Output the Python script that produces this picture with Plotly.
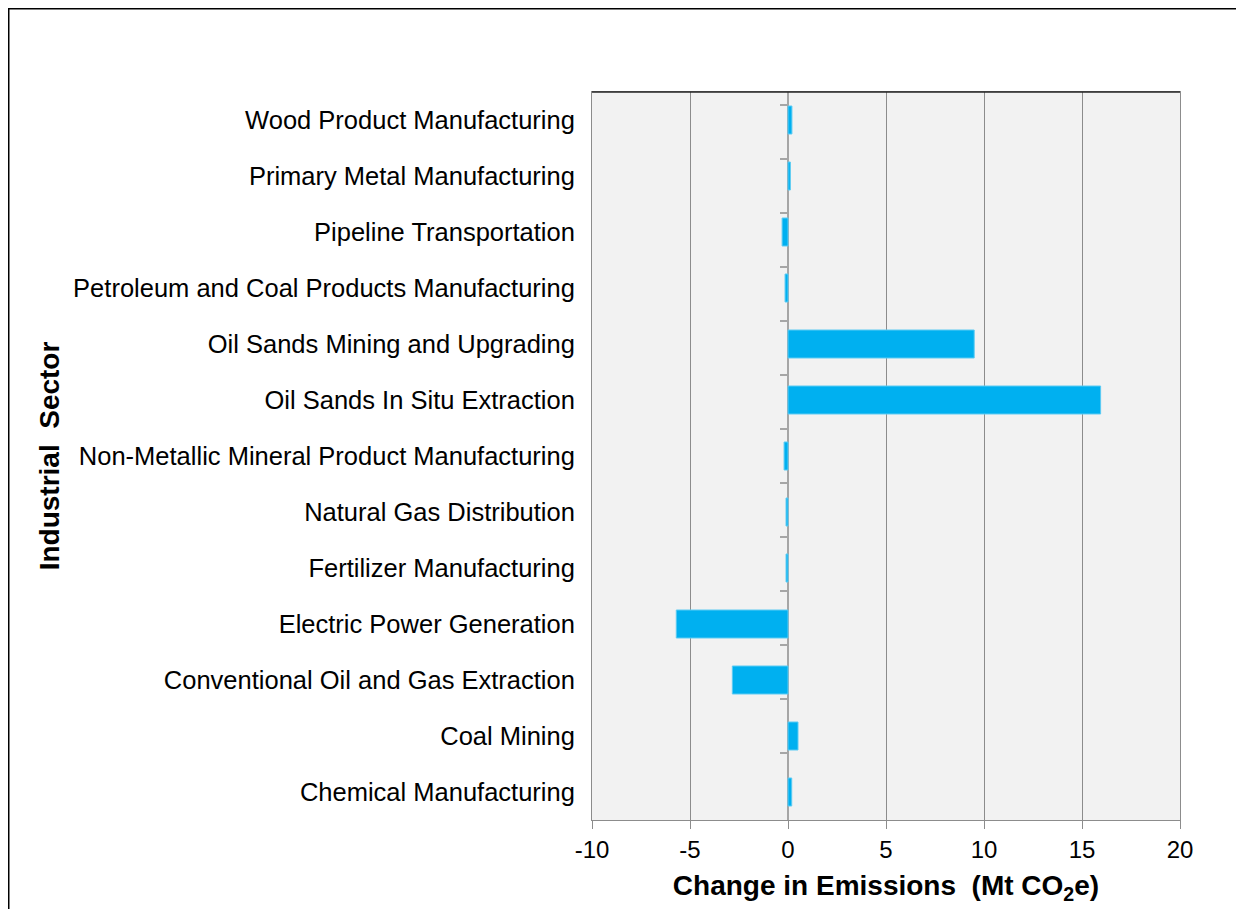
import plotly.graph_objects as go

# sectors listed top to bottom as they appear in the chart
sectors = [
    'Wood Product Manufacturing',
    'Primary Metal Manufacturing',
    'Pipeline Transportation',
    'Petroleum and Coal Products Manufacturing',
    'Oil Sands Mining and Upgrading',
    'Oil Sands In Situ Extraction',
    'Non-Metallic Mineral Product Manufacturing',
    'Natural Gas Distribution',
    'Fertilizer Manufacturing',
    'Electric Power Generation',
    'Conventional Oil and Gas Extraction',
    'Coal Mining',
    'Chemical Manufacturing',
]
change_mt = [0.2, 0.12, -0.3, -0.15, 9.5, 15.95, -0.2, -0.1, -0.1, -5.7, -2.84, 0.51, 0.19]

x_ticks = [-10, -5, 0, 5, 10, 15, 20]
x_tick_labels = ['-10', '-5', '0', '5', '10', '15', '20']

FONT = 'Liberation Sans, Arial, sans-serif'

fig = go.Figure()

fig.add_trace(
    go.Bar(
        x = change_mt,
        y = sectors,
        orientation = 'h',
        marker = {'color': '#00B0F0', 'line': {'color': '#5CCBF3', 'width': 1}},
        showlegend = False,
    )
)

# invisible copy on a second axis, only there to draw the category ticks along the zero line
fig.add_trace(
    go.Scatter(
        x = [0] * len(sectors),
        y = sectors,
        yaxis = 'y2',
        mode = 'markers',
        marker = {'opacity': 0},
        hoverinfo = 'skip',
        showlegend = False,
    )
)

fig.update_layout(
    width = 1244,
    height = 909,
    margin = dict(l = 584, r = 72, t = 84, b = 97),
    paper_bgcolor = 'white',
    plot_bgcolor = '#F2F2F2',
    font = dict(family = FONT, size = 24, color = 'black'),
    bargap = 0.5,
    xaxis = dict(
        range = [-10, 20],
        tickvals = x_ticks,
        ticktext = x_tick_labels,
        ticks = 'outside',
        ticklen = 8,
        tickcolor = '#8C8C8C',
        showgrid = True,
        gridcolor = '#8C8C8C',
        gridwidth = 1,
        zeroline = True,
        zerolinecolor = '#A6A6A6',
        zerolinewidth = 2,
        showline = True,
        linecolor = '#8C8C8C',
        linewidth = 1,
        mirror = True,
        tickfont = dict(size = 24),
        title = dict(text = '<b>Change in Emissions  (Mt CO<sub>2</sub>e)</b>', font = dict(size = 28), standoff = 13),
        fixedrange = True,
    ),
    yaxis = dict(
        autorange = 'reversed',
        categoryorder = 'array',
        categoryarray = sectors,
        ticks = '',
        ticklabelstandoff = 11,
        showline = True,
        linecolor = '#8C8C8C',
        linewidth = 1,
        mirror = True,
        showgrid = False,
        tickfont = dict(size = 25.5),
        title = dict(text = '<b>Industrial  Sector</b>', font = dict(size = 28), standoff = 5),
        fixedrange = True,
    ),
    yaxis2 = dict(
        overlaying = 'y',
        anchor = 'free',
        position = 1 / 3,
        side = 'left',
        autorange = 'reversed',
        categoryorder = 'array',
        categoryarray = sectors,
        showticklabels = False,
        ticks = 'outside',
        tickson = 'boundaries',
        ticklen = 8,
        tickwidth = 2,
        tickcolor = '#A6A6A6',
        showgrid = False,
        showline = False,
        fixedrange = True,
    ),
)

# darker top edge of the plot frame
fig.add_shape(type = 'line', xref = 'paper', yref = 'paper', x0 = 0, x1 = 1, y0 = 1, y1 = 1,
              line = dict(color = '#262626', width = 1.5))

# outer black frame around the whole chart (bottom edge runs off the page)
fig.add_shape(type = 'rect', xref = 'paper', yref = 'paper',
              x0 = -0.9932, x1 = 1.0986, y0 = -0.16, y1 = 1.1154,
              line = dict(color = 'black', width = 3), layer = 'below')

fig.write_html('out.html')
